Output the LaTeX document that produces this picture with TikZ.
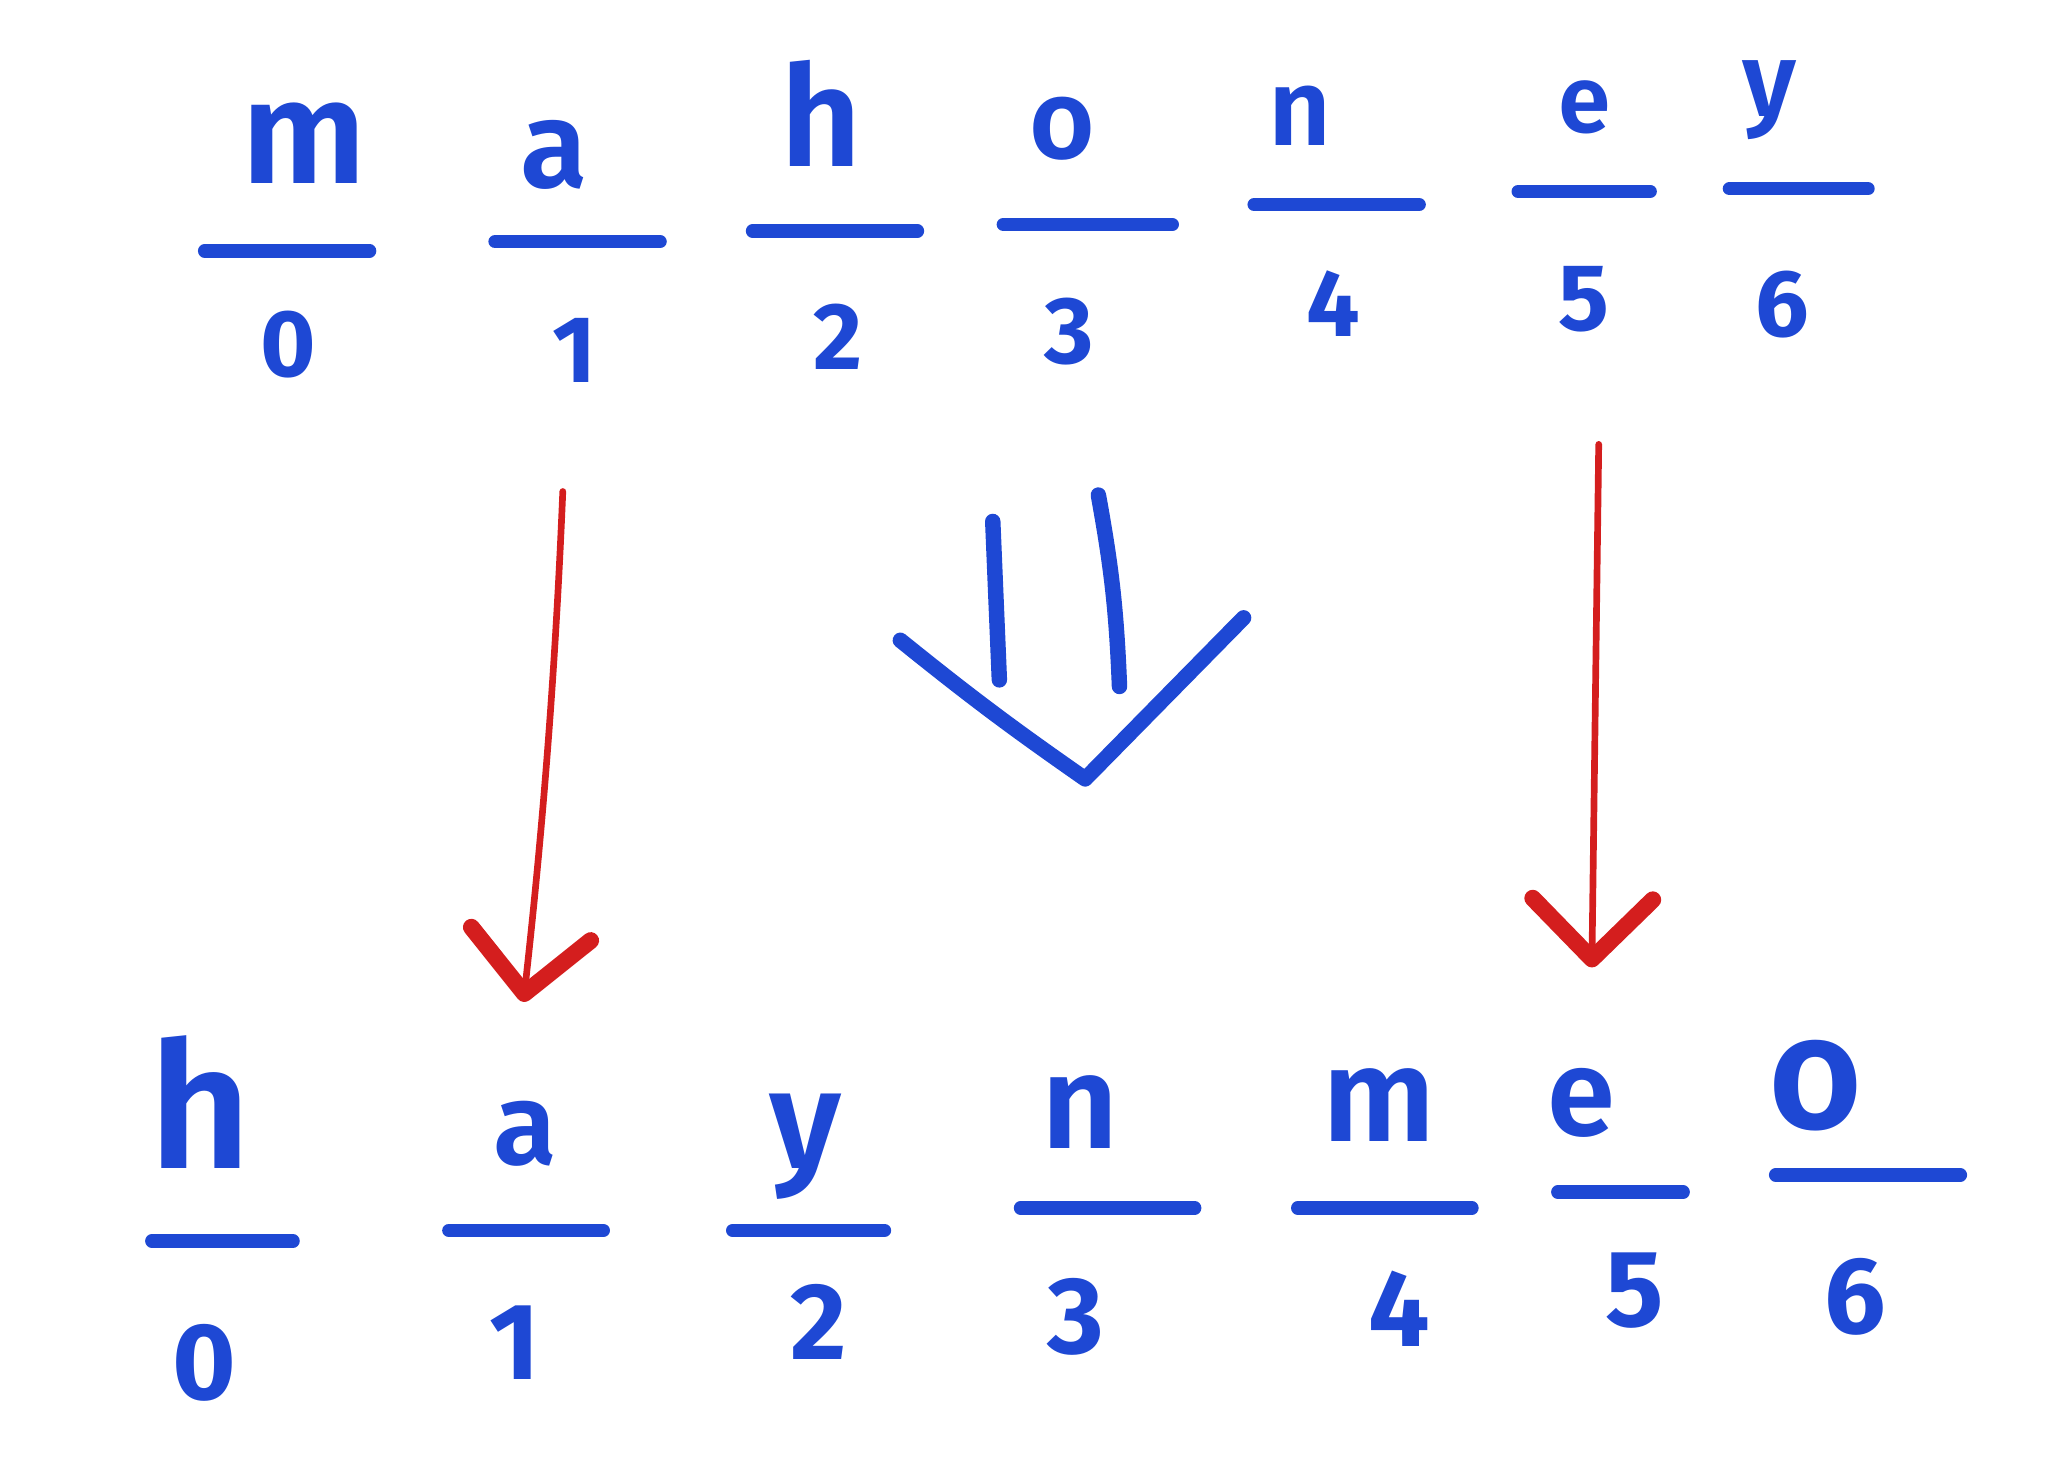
\documentclass[tikz,border=0pt]{standalone}
\usepackage{fontspec}
\setmainfont{Fira Sans}[UprightFont=* SemiBold,BoldFont=* Bold]
\usepackage{tikz}
\usetikzlibrary{arrows.meta}
\definecolor{ink}{RGB}{30,72,212}
\definecolor{redink}{RGB}{212,30,30}
\tikzset{
  letter/.style={text=ink,anchor=base,inner sep=0pt,font=\fontsize{#1}{#1}\selectfont},
  digit/.style={text=ink,anchor=base,inner sep=0pt,font=\fontsize{#1}{#1}\selectfont\bfseries},
  blank/.style={draw=ink,line width=3.8pt,line cap=round},
  implies/.style={draw=ink,line width=4.4pt,line cap=round,line join=round},
  movearrow/.style={draw=redink,line width=1.9pt,line cap=round,
    -{Straight Barb[length=6mm,width=12mm,line width=4.8pt,round]}},
}

\begin{document}
\begin{tikzpicture}[x=0.0132cm,y=-0.0132cm]
\useasboundingbox (0,0) rectangle (1568,1106);

% top row: m a h o n e y
\foreach \i/\ch/\x/\y/\s/\la/\lb/\ly/\dx/\dy in {
  0/m/230/139/42/155/280/190/218/285,
  1/a/420/142/35/375/500/183/435/290,
  2/h/622/126/40/570/695/175/635/280,
  3/o/805/120/32/760/888/170/810/275,
  4/n/985/110/31/950/1075/155/1010/255,
  5/e/1200/100/27/1150/1250/145/1200/250,
  6/y/1340/88/30/1310/1415/143/1350/255}
{
  \node[letter=\s] (t\i) at (\x,\y) {\ch};
  \coordinate (tl\i) at (\la,\ly);
  \coordinate (tr\i) at (\lb,\ly);
  \draw[blank] (tl\i) -- (tr\i);
  \node[digit=27] (td\i) at (\dx,\dy) {\i};
}

% bottom row: h a y n m e o
\foreach \i/\ch/\x/\y/\s/\la/\lb/\ly/\dx/\dy in {
  0/h/152/885/50/115/222/940/155/1060,
  1/a/398/882/33/340/457/932/390/1045,
  2/y/610/885/40/555/670/932/620/1030,
  3/n/818/870/38/773/905/915/815/1025,
  4/m/1045/865/38/983/1115/915/1060/1020,
  5/e/1198/860/35/1180/1275/903/1238/1005,
  6/o/1375/855/46/1345/1485/890/1405/1010}
{
  \node[letter=\s] (b\i) at (\x,\y) {\ch};
  \coordinate (bl\i) at (\la,\ly);
  \coordinate (br\i) at (\lb,\ly);
  \draw[blank] (bl\i) -- (br\i);
  \node[digit=31] (bd\i) at (\dx,\dy) {\i};
}

% moved letters
\draw[movearrow,shorten <=1.08cm,shorten >=0.99cm]
  ([xshift=-0.07cm]td1.south) to[bend left=2] ([xshift=-0.13cm]b1.north);
\draw[movearrow,shorten <=1.12cm,shorten >=1cm]
  ([xshift=0.16cm]td5.south) -- ([xshift=0.09cm]b5.north);

% big down arrow
\coordinate (tip) at (822,590);
\draw[implies] (752,395) -- (757,515);
\draw[implies] (832,375) to[bend left=4] (848,520);
\draw[implies] (682,485) to[bend right=2] (tip) -- (942,468);
\end{tikzpicture}
\end{document}
